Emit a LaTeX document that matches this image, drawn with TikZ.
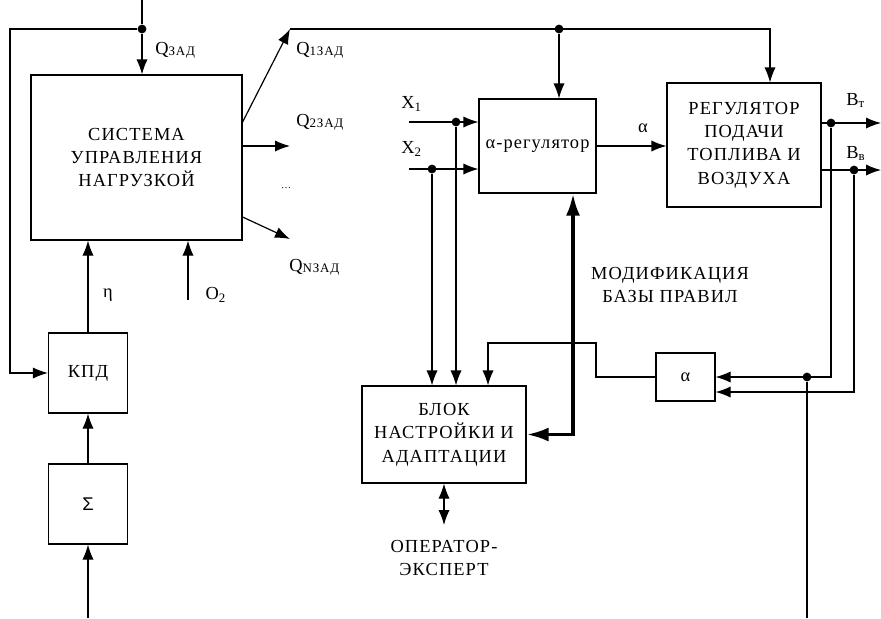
\documentclass[tikz,border=0pt]{standalone}
\usepackage{fontspec}
\setmainfont{Liberation Serif}[LetterSpace=6]
\setsansfont{Liberation Sans}
\usetikzlibrary{arrows.meta, positioning, calc}
\newcommand{\qzad}[1]{Q\raisebox{-0.7pt}{\fontsize{6.5}{7}\selectfont #1ЗАД}}

\begin{document}
\begin{tikzpicture}[x=0.5pt, y=-0.5pt,
  box/.style={draw, line width=0.6pt, inner sep=0pt, align=center,
    font=\fontsize{9.2}{11.7}\selectfont},
  arr/.style={-{Latex[length=7.5pt, width=5.6pt]}, line width=0.6pt},
  twoarr/.style={{Latex[length=7.5pt, width=5.6pt]}-{Latex[length=7.5pt, width=5.6pt]}, line width=0.6pt},
  fatarr/.style={{Latex[length=11pt, width=7pt]}-{Latex[length=11pt, width=7pt]}, line width=1.8pt},
  ln/.style={line width=0.6pt},
  lbl/.style={font=\fontsize{9.2}{11.5}\selectfont, inner sep=0pt, align=center},
  dot/.style={fill, circle, inner sep=0pt, minimum size=4.4pt}
]
  \useasboundingbox (0,0) rectangle (881,618);

  %% Blocks
  \node[box, minimum width=105.5pt, minimum height=82.5pt] (sys) at (136.5,157.5)
    {СИСТЕМА\\УПРАВЛЕНИЯ\\НАГРУЗКОЙ};
  \node[box, minimum width=39.5pt, minimum height=40pt] (kpd) at (88,373) {КПД};
  \node[box, minimum width=39.5pt, minimum height=40pt] (sigma) at (88,504)
    {\sffamily Σ};
  \node[box, minimum width=58.5pt, minimum height=47pt] (areg) at (537.5,146)
    {α-регулятор};
  \node[box, minimum width=77pt, minimum height=62pt] (reg) at (744,145)
    {РЕГУЛЯТОР\\ПОДАЧИ\\ТОПЛИВА И\\ВОЗДУХА};
  \node[box, minimum width=82pt, minimum height=48.5pt] (blok) at (444,434.5)
    {БЛОК\\НАСТРОЙКИ И\\АДАПТАЦИИ};
  \node[box, minimum width=29.5pt, minimum height=24pt] (asmall) at (685.5,377) {α};

  %% Junctions
  \node[dot] (j0) at (142,29) {};
  \node[dot] (j1) at (559,29) {};
  \node[dot] (jx1) at (456,122) {};
  \node[dot] (jx2) at (432,169) {};
  \node[dot] (jt) at (831,123) {};
  \node[dot] (jb) at (854,170) {};
  \node[dot] (jd) at (807,377) {};
  \coordinate (top) at (142,0);
  \coordinate (fbl) at (10,29);
  \coordinate (q1) at (290,29);
  \coordinate (q2) at (290,146);
  \coordinate (q3) at (290,239);
  \coordinate (jr) at (770,29);
  \coordinate (x1) at (409,122);
  \coordinate (x2) at (409,169);
  \coordinate (bt) at (881,123);
  \coordinate (bv) at (881,170);
  \coordinate (o2) at (188,300);
  \coordinate (bend) at (596,343);
  \coordinate (bot) at (88,618);
  \coordinate (botr) at (807,618);

  %% Load control loop
  \draw[ln] (top) -- (j0);
  \draw[arr] (j0) -- (j0 |- sys.north);
  \draw[arr] (j0) -- (fbl) |- (kpd.west);
  \draw[arr] (sys.east |- 0,122) -- (q1);
  \draw[arr] (sys.east |- 0,146) -- (q2);
  \draw[arr] (sys.east |- 0,217) -- (q3);
  \draw[arr] (q1) -- (jr) -- (jr |- reg.north);
  \draw[arr] (j1) -- (j1 |- areg.north);
  \draw[arr] (kpd.north) -- (kpd.north |- sys.south);
  \draw[arr] (o2) -- (o2 |- sys.south);
  \draw[arr] (sigma.north) -- (kpd.south);
  \draw[arr] (bot) -- (sigma.south);

  %% Alpha regulator and fuel/air regulator
  \draw[arr] (x1) -- (x1 -| areg.west);
  \draw[arr] (x2) -- (x2 -| areg.west);
  \draw[arr] (jx1) -- (jx1 |- blok.north);
  \draw[arr] (jx2) -- (jx2 |- blok.north);
  \draw[arr] (areg.east) -- (areg.east -| reg.west);
  \draw[arr] (reg.east |- bt) -- (bt);
  \draw[arr] (reg.east |- bv) -- (bv);
  \draw[arr] (jt) |- (asmall.east);
  \draw[arr] (jb) |- (asmall.east |- 0,392);
  \draw[ln] (jd) -- (botr);
  \draw[arr] (asmall.west) -| (bend) -| ($(blok.north)+(44,0)$);
  \draw[fatarr] ($(areg.south)+(35.5,0)$) |- (blok.east);
  \draw[twoarr] (blok.south) -- (blok.south |- 0,525);

  %% Labels
  \node[lbl, anchor=west] (lq) at (155,50) {\qzad{}};
  \node[lbl, anchor=west] (lq1) at (296,50) {\qzad{1}};
  \node[lbl, anchor=west] (lq2) at (296,122) {\qzad{2}};
  \node[lbl] (ldots) at (286,188) {\fontsize{5}{6}\selectfont\ldots};
  \node[lbl, anchor=west] (lqn) at (289,267) {\qzad{N}};
  \node[lbl, anchor=west] (lx1) at (401,104) {X\textsubscript{1}};
  \node[lbl, anchor=west] (lx2) at (401,149) {X\textsubscript{2}};
  \node[lbl] (lal) at (643,128) {α};
  \node[lbl, anchor=west] (lbt) at (846,100) {B\textsubscript{т}};
  \node[lbl, anchor=west] (lbv) at (846,153) {B\textsubscript{в}};
  \node[lbl] (leta) at (108,295) {η};
  \node[lbl] (lo2) at (216,295) {O\textsubscript{2}};
  \node[lbl] (lmod) at (670,285) {МОДИФИКАЦИЯ\\БАЗЫ ПРАВИЛ};
  \node[lbl] (lop) at (444,558) {ОПЕРАТОР-\\ЭКСПЕРТ};

\end{tikzpicture}
\end{document}
